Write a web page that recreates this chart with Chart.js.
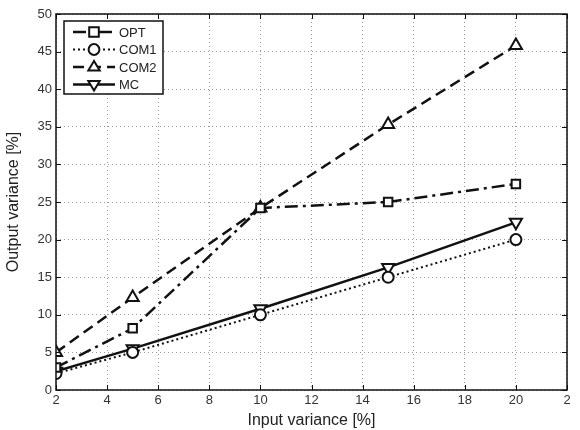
<!DOCTYPE html>
<html><head><meta charset="utf-8">
<script src="https://cdn.jsdelivr.net/npm/chart.js@4/dist/chart.umd.min.js"></script>
<style>html,body{margin:0;padding:0;background:#fff}#wrap{width:580px;height:430px}</style>
</head><body><div id="wrap"><canvas id="c" width="580" height="430"></canvas></div>
<script>
const xValues = [2, 5, 10, 15, 20];
const optValues = [3.0, 8.2, 24.2, 25.0, 27.4];
const com1Values = [2.2, 5.0, 10.0, 15.0, 20.0];
const com2Values = [5.0, 12.3, 24.2, 35.3, 45.8];
const mcValues = [2.5, 5.5, 10.8, 16.3, 22.3];
const xTickLabels = {2:'2',4:'4',6:'6',8:'8',10:'10',12:'12',14:'14',16:'16',18:'18',20:'20',22:'2'};
const seriesNames = ['OPT', 'COM1', 'COM2', 'MC'];

const toPts = v => xValues.map((x, i) => ({x: x, y: v[i]}));
const FONT = '"Liberation Sans", Arial, sans-serif';

function drawMarker(ctx, style, x, y, r, rot) {
  ctx.save();
  ctx.setLineDash([]);
  ctx.lineWidth = 2;
  ctx.strokeStyle = '#111';
  ctx.fillStyle = '#fff';
  ctx.beginPath();
  if (style === 'rect') {
    ctx.rect(x - r * 0.8, y - r * 0.8, r * 1.6, r * 1.6);
  } else if (style === 'circle') {
    ctx.arc(x, y, r * 0.9, 0, Math.PI * 2);
  } else {
    const s = rot ? -1 : 1;
    ctx.moveTo(x, y - s * r);
    ctx.lineTo(x - r * 0.95, y + s * r * 0.6);
    ctx.lineTo(x + r * 0.95, y + s * r * 0.6);
    ctx.closePath();
  }
  ctx.fill();
  ctx.stroke();
  ctx.restore();
}

const framePlugin = {
  id: 'frame',
  afterDatasetsDraw(chart) {
    const {ctx, chartArea: a, scales} = chart;
    ctx.save();
    // inner tick marks
    ctx.strokeStyle = '#111';
    ctx.lineWidth = 1;
    ctx.setLineDash([]);
    scales.x.ticks.forEach(t => {
      const px = Math.round(scales.x.getPixelForValue(t.value)) + 0.5;
      ctx.beginPath();
      ctx.moveTo(px, a.bottom); ctx.lineTo(px, a.bottom - 5);
      ctx.moveTo(px, a.top); ctx.lineTo(px, a.top + 5);
      ctx.stroke();
    });
    scales.y.ticks.forEach(t => {
      const py = Math.round(scales.y.getPixelForValue(t.value)) + 0.5;
      ctx.beginPath();
      ctx.moveTo(a.left, py); ctx.lineTo(a.left + 5, py);
      ctx.moveTo(a.right, py); ctx.lineTo(a.right - 5, py);
      ctx.stroke();
    });
    ctx.lineWidth = 1.5;
    ctx.strokeRect(a.left, a.top, a.right - a.left, a.bottom - a.top);

    // legend box
    const bx = a.left + 8, by = a.top + 7, bw = 99, bh = 73;
    ctx.fillStyle = '#fff';
    ctx.fillRect(bx, by, bw, bh);
    ctx.lineWidth = 1.5;
    ctx.strokeStyle = '#111';
    ctx.strokeRect(bx, by, bw, bh);
    chart.data.datasets.forEach((ds, i) => {
      const y = by + 11 + i * 17.5;
      ctx.save();
      ctx.strokeStyle = '#111';
      ctx.lineWidth = ds.borderWidth;
      ctx.setLineDash(ds.borderDash || []);
      ctx.beginPath();
      ctx.moveTo(bx + 9, y); ctx.lineTo(bx + 51, y);
      ctx.stroke();
      ctx.restore();
      drawMarker(ctx, ds.pointStyle, bx + 30, y, 6, ds.pointRotation);
      ctx.fillStyle = '#222';
      ctx.font = '13px ' + FONT;
      ctx.textBaseline = 'middle';
      ctx.textAlign = 'left';
      ctx.fillText(ds.label, bx + 55, y + 1);
    });
    ctx.restore();
  }
};

const base = {
  borderColor: '#111',
  pointBorderColor: '#111',
  pointBackgroundColor: '#fff',
  pointBorderWidth: 2,
  fill: false,
  tension: 0
};

new Chart(document.getElementById('c'), {
  type: 'line',
  data: {
    datasets: [
      Object.assign({}, base, {label: seriesNames[0], data: toPts(optValues), borderWidth: 2.5, borderDash: [13, 5, 3, 5], pointStyle: 'rect', pointRadius: 6, pointRotation: 0}),
      Object.assign({}, base, {label: seriesNames[1], data: toPts(com1Values), borderWidth: 2, borderDash: [2, 3], pointStyle: 'circle', pointRadius: 5.5, pointRotation: 0}),
      Object.assign({}, base, {label: seriesNames[2], data: toPts(com2Values), borderWidth: 2.5, borderDash: [11, 6], pointStyle: 'triangle', pointRadius: 7, pointRotation: 0}),
      Object.assign({}, base, {label: seriesNames[3], data: toPts(mcValues), borderWidth: 2.5, borderDash: [], pointStyle: 'triangle', pointRadius: 7, pointRotation: 180})
    ]
  },
  options: {
    responsive: false,
    animation: false,
    devicePixelRatio: 1,
    layout: {padding: {left: 4, right: 13, top: 14, bottom: 0}},
    plugins: {legend: {display: false}, tooltip: {enabled: false}},
    scales: {
      x: {
        type: 'linear', min: 2, max: 22,
        afterFit: s => { s.height = 40; },
        ticks: {stepSize: 2, color: '#333', font: {family: FONT, size: 13}, padding: 3, maxRotation: 0,
          callback: v => xTickLabels[v] !== undefined ? xTickLabels[v] : ''},
        grid: {color: '#999', lineWidth: 1, drawTicks: false, tickBorderDash: [], },
        border: {display: false, dash: [1, 3]},
        title: {display: true, text: 'Input variance [%]', color: '#222', font: {family: FONT, size: 16}, padding: {top: 2, bottom: 0}}
      },
      y: {
        min: 0, max: 50,
        afterFit: s => { s.width = 52; },
        ticks: {stepSize: 5, color: '#333', font: {family: FONT, size: 13}, padding: 4},
        grid: {color: '#999', lineWidth: 1, drawTicks: false},
        border: {display: false, dash: [1, 3]},
        title: {display: true, text: 'Output variance [%]', color: '#222', font: {family: FONT, size: 16}, padding: {top: 0, bottom: 4}}
      }
    }
  },
  plugins: [framePlugin]
});
</script>
</body></html>
